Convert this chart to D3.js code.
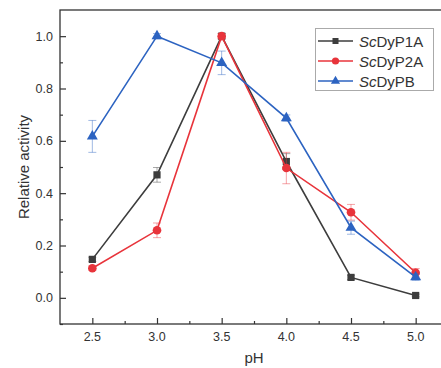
<!DOCTYPE html>
<html>
<head>
<meta charset="utf-8">
<script src="https://cdn.jsdelivr.net/npm/d3@7"></script>
<style>
  body { margin: 0; background: #fff; }
  svg { display: block; font-family: "Liberation Sans", Arial, sans-serif; }
</style>
</head>
<body>
<svg id="chart" width="441" height="368"></svg>
<script>
var phValues = [2.5, 3.0, 3.5, 4.0, 4.5, 5.0];
var xTicks = [2.5, 3.0, 3.5, 4.0, 4.5, 5.0];
var yTicks = [0.0, 0.2, 0.4, 0.6, 0.8, 1.0];

var p1aValues = [0.147, 0.47, 1.0, 0.521, 0.078, 0.009];
var p1aErrors = [0.008, 0.028, 0.01, 0.03, 0.008, 0.005];
var p2aValues = [0.113, 0.258, 1.0, 0.496, 0.327, 0.096];
var p2aErrors = [0.008, 0.028, 0.01, 0.06, 0.03, 0.016];
var pbValues = [0.617, 1.0, 0.898, 0.687, 0.268, 0.079];
var pbErrors = [0.061, 0.01, 0.045, 0.012, 0.025, 0.012];

var seriesNames = ["P1A", "P2A", "PB"];
var seriesColors = ["#3d3d3d", "#e8343b", "#2c63c1"];
var seriesShapes = ["square", "circle", "triangle"];

var svg = d3.select("#chart");
var margin = {top: 10, left: 60, right: 448, bottom: 324};

var x = d3.scaleLinear().domain([2.25, 5.25]).range([margin.left, margin.right]);
var y = d3.scaleLinear().domain([-0.1, 1.1]).range([margin.bottom, margin.top]);

var series = [
  {name: seriesNames[0], values: p1aValues, errors: p1aErrors, color: seriesColors[0], shape: seriesShapes[0]},
  {name: seriesNames[1], values: p2aValues, errors: p2aErrors, color: seriesColors[1], shape: seriesShapes[1]},
  {name: seriesNames[2], values: pbValues, errors: pbErrors, color: seriesColors[2], shape: seriesShapes[2]}
];

function symbolFor(shape, k){
  k = k || 1;
  if(shape == "square") return d3.symbol().type(d3.symbolSquare).size(52 * k);
  if(shape == "circle") return d3.symbol().type(d3.symbolCircle).size(58 * k);
  return d3.symbol().type(d3.symbolTriangle).size(52 * k);
}

// frame
svg.append("rect")
  .attr("x", margin.left).attr("y", margin.top)
  .attr("width", margin.right - margin.left).attr("height", margin.bottom - margin.top)
  .attr("fill", "none").attr("stroke", "#333").attr("stroke-width", 1.3);

// axes, ticks inward
var xAxis = d3.axisTop(x).tickValues(xTicks).tickSize(6).tickFormat("");
var xMinor = d3.axisTop(x).tickValues([2.75, 3.25, 3.75, 4.25, 4.75]).tickSize(3).tickFormat("");
var yAxis = d3.axisRight(y).tickValues(yTicks).tickSize(6).tickFormat("");
var yMinor = d3.axisRight(y).tickValues([-0.1, 0.1, 0.3, 0.5, 0.7, 0.9]).tickSize(3).tickFormat("");

[xAxis, xMinor].forEach(function(a){
  svg.append("g").attr("transform", "translate(0," + margin.bottom + ")").call(a)
    .call(function(g){ g.select(".domain").remove(); })
    .selectAll("line").attr("stroke", "#333").attr("stroke-width", 1.2);
});
[yAxis, yMinor].forEach(function(a){
  svg.append("g").attr("transform", "translate(" + margin.left + ",0)").call(a)
    .call(function(g){ g.select(".domain").remove(); })
    .selectAll("line").attr("stroke", "#333").attr("stroke-width", 1.2);
});

svg.append("g").selectAll("text").data(xTicks).enter().append("text")
  .attr("x", function(d){ return x(d); })
  .attr("y", margin.bottom + 17)
  .attr("text-anchor", "middle")
  .attr("font-size", 12.5).attr("fill", "#333")
  .text(function(d){ return d.toFixed(1); });

svg.append("g").selectAll("text").data(yTicks).enter().append("text")
  .attr("x", margin.left - 7)
  .attr("y", function(d){ return y(d) + 4.5; })
  .attr("text-anchor", "end")
  .attr("font-size", 12.5).attr("fill", "#333")
  .text(function(d){ return d.toFixed(1); });

svg.append("text")
  .attr("x", 254).attr("y", 363)
  .attr("text-anchor", "middle").attr("font-size", 15).attr("fill", "#333")
  .text("pH");

svg.append("text")
  .attr("transform", "translate(29," + ((margin.top + margin.bottom) / 2) + ") rotate(-90)")
  .attr("text-anchor", "middle").attr("font-size", 15).attr("fill", "#333")
  .text("Relative activity");

var line = d3.line()
  .x(function(d){ return x(d.ph); })
  .y(function(d){ return y(d.v); });

series.forEach(function(s){
  var pts = phValues.map(function(ph, i){ return {ph: ph, v: s.values[i], e: s.errors[i]}; });
  var g = svg.append("g");

  // error bars
  var eb = g.selectAll(".err").data(pts).enter().append("g")
    .attr("stroke", s.color).attr("stroke-opacity", 0.45).attr("stroke-width", 1);
  eb.append("line")
    .attr("x1", function(d){ return x(d.ph); }).attr("x2", function(d){ return x(d.ph); })
    .attr("y1", function(d){ return y(d.v - d.e); }).attr("y2", function(d){ return y(d.v + d.e); });
  eb.append("line")
    .attr("x1", function(d){ return x(d.ph) - 4; }).attr("x2", function(d){ return x(d.ph) + 4; })
    .attr("y1", function(d){ return y(d.v + d.e); }).attr("y2", function(d){ return y(d.v + d.e); });
  eb.append("line")
    .attr("x1", function(d){ return x(d.ph) - 4; }).attr("x2", function(d){ return x(d.ph) + 4; })
    .attr("y1", function(d){ return y(d.v - d.e); }).attr("y2", function(d){ return y(d.v - d.e); });

  g.append("path").datum(pts)
    .attr("d", line).attr("fill", "none")
    .attr("stroke", s.color).attr("stroke-width", 1.6);

  g.selectAll(".pt").data(pts).enter().append("path")
    .attr("transform", function(d){ return "translate(" + x(d.ph) + "," + y(d.v) + ")"; })
    .attr("d", symbolFor(s.shape)())
    .attr("fill", s.color);
});

// legend
var legend = svg.append("g");
legend.append("rect")
  .attr("x", 315.5).attr("y", 28.5).attr("width", 118).attr("height", 62)
  .attr("fill", "#fff").attr("stroke", "#aaa").attr("stroke-width", 1);

series.forEach(function(s, i){
  var ly = 41 + i * 20;
  legend.append("line")
    .attr("x1", 318).attr("x2", 353).attr("y1", ly).attr("y2", ly)
    .attr("stroke", s.color).attr("stroke-width", 1.6);
  legend.append("path")
    .attr("transform", "translate(335.5," + ly + ")")
    .attr("d", symbolFor(s.shape, 0.7)())
    .attr("fill", s.color);
  var t = legend.append("text")
    .attr("x", 359).attr("y", ly + 5.5)
    .attr("font-size", 15).attr("fill", "#333");
  t.append("tspan").attr("font-style", "italic").text("Sc");
  t.append("tspan").text("Dy" + s.name);
});
</script>
</body>
</html>
